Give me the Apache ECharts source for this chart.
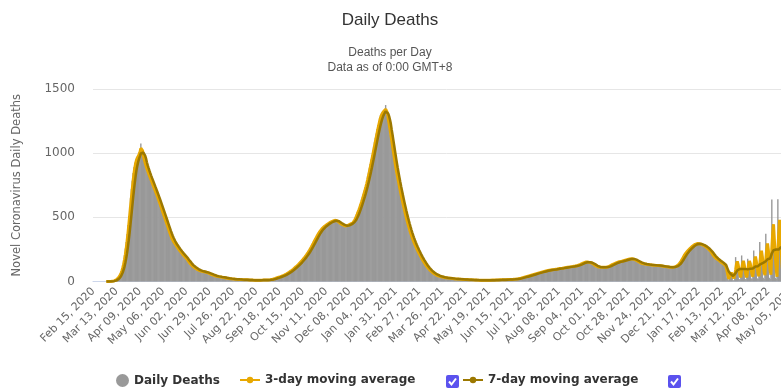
<!DOCTYPE html>
<html>
<head>
<meta charset="utf-8">
<script src="https://cdn.jsdelivr.net/npm/echarts@6.0.0/dist/echarts.min.js"></script>
<style>
  html, body { margin: 0; padding: 0; background: #fff; overflow: hidden; width: 781px; height: 388px; }
  #chart { width: 830px; height: 388px; }
</style>
</head>
<body>
<div id="chart"></div>
<script>
// Daily reported deaths, one value per day starting 15 Feb 2020.
const firstDay = Date.UTC(2020, 1, 15);

const deaths2020 = [
  // Feb 15-29
  0,0,0,0,0,0,0,0,0,0,0,0,0,0,0,
  // Mar
  0,0,0,0,1,1,2,3,5,7,10,14,20,27,36,48,62,80,105,133,165,205,255,310,370,440,510,580,650,720,785,
  // Apr
  845,890,925,950,965,975,985,1010,1030,1075,1010,975,950,925,900,880,860,842,825,808,790,772,755,737,720,702,684,666,648,630,
  // May
  610,590,570,550,530,510,492,472,452,432,412,392,372,355,335,322,310,300,290,280,270,260,251,242,233,225,217,209,201,194,187,
  // Jun
  180,172,162,150,140,133,127,121,115,110,105,100,96,92,89,86,83,80,78,77,76,75,74,72,70,67,64,61,58,56,
  // Jul
  53,50,47,45,43,41,39,38,37,36,35,34,33,31,30,29,28,26,25,24,23,22,22,21,20,20,19,18,18,17,17,
  // Aug
  16,16,15,15,14,14,14,13,13,13,12,12,12,11,11,11,11,10,10,10,10,10,10,10,10,11,11,11,11,12,12,
  // Sep
  12,12,12,13,13,14,15,16,17,19,21,23,26,29,31,33,35,37,40,42,45,48,51,55,59,63,67,71,76,81,
  // Oct
  86,91,97,103,109,115,121,127,133,140,147,155,163,171,179,187,196,205,215,225,236,247,258,270,283,296,310,323,336,348,360,
  // Nov
  372,383,393,402,410,418,424,430,435,440,445,450,455,459,462,465,468,471,474,477,480,477,472,466,460,455,450,446,442,440,
  // Dec
  436,432,430,431,435,440,445,448,450,452,457,465,476,490,506,523,540,558,577,597,618,640,662,685,710,735,760,790,820,850,883
];

const deaths2021 = [
  // Jan
  916,950,984,1018,1052,1086,1120,1154,1188,1220,1250,1276,1296,1310,1320,1326,1330,1325,1375,1300,1270,1232,1190,1145,1100,1055,1010,966,923,881,840,
  // Feb
  810,775,740,706,673,641,610,580,551,523,496,470,445,421,398,377,357,338,320,303,287,271,256,242,228,215,202,190,
  // Mar
  178,166,155,144,134,124,115,106,98,91,84,78,72,67,62,58,54,50,47,44,42,40,38,36,35,33,32,31,30,29,28,
  // Apr
  27,26,26,25,24,23,22,22,21,20,20,19,19,18,18,17,17,16,16,15,15,15,14,14,14,13,13,13,12,12,
  // May
  12,12,11,11,11,11,10,10,10,10,10,10,10,10,10,10,10,10,10,10,11,11,11,11,11,12,12,12,12,13,13,
  // Jun
  13,13,13,14,14,14,15,15,15,16,16,16,17,17,18,18,19,19,20,21,22,23,24,26,28,30,32,34,36,38,
  // Jul
  39,41,43,45,47,49,51,53,55,57,59,61,63,65,67,69,71,73,75,77,79,80,82,83,85,86,88,89,90,91,92,
  // Aug
  93,94,95,96,97,99,100,101,102,103,104,105,106,108,109,110,111,112,113,114,115,116,117,118,119,120,122,123,125,127,130,
  // Sep
  133,136,140,143,147,150,152,153,152,151,150,149,147,145,141,136,131,126,121,117,114,112,111,111,110,110,110,110,111,111,
  // Oct
  111,112,113,116,120,125,129,132,135,138,141,144,147,150,152,154,155,156,158,160,162,164,166,168,170,172,174,176,177,178,178,
  // Nov
  177,175,172,168,164,160,155,151,148,145,142,140,138,137,136,135,134,133,132,131,130,129,128,127,127,126,126,125,125,125,
  // Dec
  124,123,122,121,120,119,118,117,116,115,114,113,112,112,111,111,111,112,113,115,117,121,126,133,141,150,160,172,185,198,210
];

const deaths2022 = [
  // Jan
  220,228,235,242,250,257,264,270,276,281,286,290,293,295,296,296,295,293,290,287,284,281,277,273,268,262,256,250,243,236,229,
  // Feb
  214,203,195,188,182,177,172,168,164,158,152,146,140,130,140,130,112,100,30,20,10,80,70,60,50,10,10,70,
  // Mar
  190,150,130,110,20,15,60,203,150,130,110,20,15,60,177,160,140,120,25,20,70,242,180,160,140,25,20,80,307,220,190,
  // Apr
  170,30,20,100,372,280,240,210,30,20,110,638,380,320,250,30,20,60,640,420,380,300,30,20,120,560,380,330,280,30,
  // May 1-14
  20,60,450,350,300,250,30,20,100,420,320,280,230,25
];

const yTicks = [0, 500, 1000, 1500];
const seriesNames = ['Daily Deaths', '3-day moving average', '7-day moving average'];

const daily = deaths2020.concat(deaths2021, deaths2022);

const monthNames = ['Jan','Feb','Mar','Apr','May','Jun','Jul','Aug','Sep','Oct','Nov','Dec'];
const categories = daily.map((_, i) => {
  const d = new Date(firstDay + i * 86400000);
  const day = String(d.getUTCDate()).padStart(2, '0');
  return monthNames[d.getUTCMonth()] + ' ' + day + ', ' + d.getUTCFullYear();
});

// Trailing averages; the curves begin on 1 Mar 2020.
const averagesFrom = 15;
function trailingMean(values, span) {
  return values.map((v, i) => {
    if (i < averagesFrom) return null;
    let sum = 0;
    for (let k = i - span + 1; k <= i; k++) sum += values[Math.max(k, 0)];
    return Math.round(sum / span * 10) / 10;
  });
}
const avg3 = trailingMean(daily, 3);
const avg7 = trailingMean(daily, 7);

const FONT = 'DejaVu Sans';
const TITLE_FONT = 'Liberation Sans';
const dayWidth = 0.862;

const chart = echarts.init(document.getElementById('chart'), null, { renderer: 'canvas' });

function checkbox(x, y) {
  return {
    type: 'group', left: x, top: y, silent: true,
    children: [
      { type: 'rect', shape: { x: 0, y: 0, width: 13, height: 13, r: 2 }, style: { fill: '#5b52ee' } },
      { type: 'polyline', shape: { points: [[3, 6.5], [5.5, 9.5], [10, 3.5]] },
        style: { stroke: '#fff', lineWidth: 2, fill: null } }
    ]
  };
}

const legendText = { fontFamily: FONT, fontSize: 12, fontWeight: 'bold', color: '#333' };

chart.setOption({
  animation: false,
  textStyle: { fontFamily: FONT },
  title: [
    { text: 'Daily Deaths', left: 385, textAlign: 'center', top: 7,
      textStyle: { fontFamily: TITLE_FONT, fontSize: 17, fontWeight: 'normal', color: '#333' } },
    { text: 'Deaths per Day\nData as of 0:00 GMT+8', left: 385, textAlign: 'center', top: 40,
      textStyle: { fontFamily: TITLE_FONT, fontSize: 12, fontWeight: 'normal', color: '#555', lineHeight: 15, align: 'center' } }
  ],
  legend: [
    { data: [seriesNames[0]], left: 116, top: 374, padding: 0, icon: 'circle', itemWidth: 13, itemHeight: 13,
      textStyle: legendText, selectedMode: false },
    { data: [seriesNames[1]], left: 239, top: 374, padding: 0, itemWidth: 20, itemHeight: 8,
      textStyle: legendText, selectedMode: false },
    { data: [seriesNames[2]], left: 462, top: 374, padding: 0, itemWidth: 20, itemHeight: 8,
      textStyle: legendText, selectedMode: false }
  ],
  graphic: [checkbox(446, 375), checkbox(668, 375)],
  grid: { left: 93, top: 89, width: daily.length * dayWidth, height: 192.5, containLabel: false },
  xAxis: {
    type: 'category',
    data: categories,
    boundaryGap: true,
    axisLine: { lineStyle: { color: '#ccd6eb', width: 1 } },
    axisTick: { show: false },
    axisLabel: { interval: 26, rotate: 45, fontSize: 11, color: '#666', margin: 8, fontFamily: FONT },
    splitLine: { show: false }
  },
  yAxis: {
    type: 'value',
    min: yTicks[0],
    max: yTicks[yTicks.length - 1],
    interval: yTicks[1] - yTicks[0],
    name: 'Novel Coronavirus Daily Deaths',
    nameLocation: 'middle',
    nameGap: 70,
    nameTextStyle: { fontFamily: FONT, fontSize: 11.5, color: '#666' },
    axisLine: { show: false },
    axisTick: { show: false },
    axisLabel: { fontSize: 12, color: '#666', margin: 18, fontFamily: FONT, formatter: v => String(v) },
    splitLine: { lineStyle: { color: '#e6e6e6', width: 1 } }
  },
  series: [
    { name: seriesNames[0], type: 'bar', data: daily, barWidth: 1.4,
      itemStyle: { color: '#999999' }, silent: true },
    { name: seriesNames[1], type: 'line', data: avg3, symbol: 'circle', showSymbol: false,
      itemStyle: { color: '#e8a800' },
      lineStyle: { color: '#e8a800', width: 3 }, silent: true },
    { name: seriesNames[2], type: 'line', data: avg7, symbol: 'circle', showSymbol: false,
      itemStyle: { color: '#9c7800' },
      lineStyle: { color: '#9c7800', width: 2.5 }, silent: true }
  ]
});
</script>
</body>
</html>
